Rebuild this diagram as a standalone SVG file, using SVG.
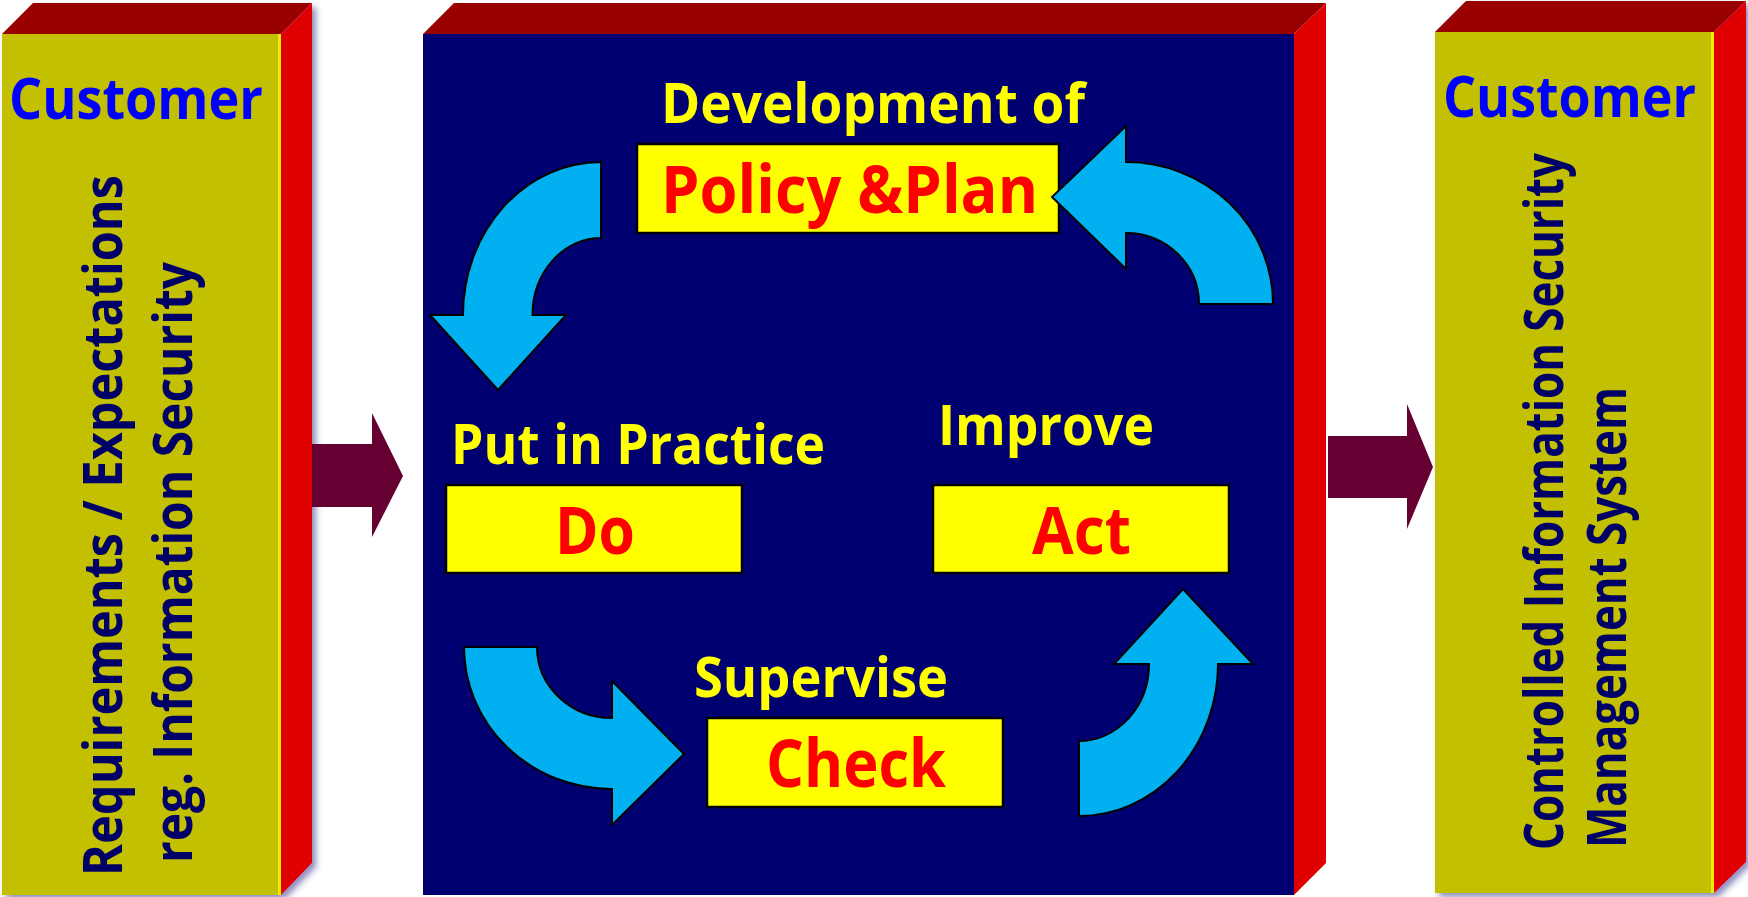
<svg xmlns="http://www.w3.org/2000/svg" width="1748" height="897" viewBox="0 0 1748 897">
<style>
.front{fill:#c2c000}
.top{fill:#990000}
.side{fill:#e00000}
.edge{stroke:#eeee00;stroke-width:3}
.panel{fill:#000070}
.cust{font-family:"Open Sans","Noto Sans",sans-serif;font-weight:bold;fill:#0000ff;font-size:57px}
.vt{font-family:"Open Sans","Noto Sans",sans-serif;font-weight:bold;fill:#000066;font-size:53px}
.lab{font-family:"Open Sans","Noto Sans",sans-serif;font-weight:bold;fill:#ffff00;font-size:55px}
.key{font-family:"Open Sans","Noto Sans",sans-serif;font-weight:bold;fill:#ff0000;font-size:67px;text-anchor:start}
.ybox{fill:#ffff00;stroke:#000;stroke-width:2.5}
.curve{fill:#00b0f0;stroke:#000;stroke-width:2}
.flow{fill:#660033}
</style>
<defs>
<filter id="sh" x="-10%" y="-10%" width="130%" height="130%">
<feDropShadow dx="4" dy="4" stdDeviation="3" flood-color="#33338a" flood-opacity="0.55"/>
</filter>
</defs>

<g id="box-customer-in" filter="url(#sh)">
<polygon class="top" points="2,34 33,3 312,3 281,34"/>
<polygon class="side" points="281,34 312,3 312,863 281,895"/>
<rect class="front" x="2" y="34" width="279" height="861"/>
<line class="edge" x1="279.5" y1="34" x2="279.5" y2="895"/>
<text class="cust" x="9" y="119" textLength="254" lengthAdjust="spacingAndGlyphs">Customer</text>
<text class="vt" transform="translate(122,876) rotate(-90)" textLength="701" lengthAdjust="spacingAndGlyphs">Requirements / Expectations</text>
<text class="vt" transform="translate(192,863) rotate(-90)" textLength="601" lengthAdjust="spacingAndGlyphs">reg. Information Security</text>
</g>

<g id="box-pdca">
<polygon class="top" points="423,34 454,3 1326,3 1294,34"/>
<polygon class="side" points="1294,34 1326,3 1326,863 1294,895"/>
<rect class="panel" x="423" y="34" width="871" height="861"/>
</g>

<g id="box-customer-out" filter="url(#sh)">
<polygon class="top" points="1435,32 1466,1 1746,1 1714,32"/>
<polygon class="side" points="1714,32 1746,1 1746,862 1714,893"/>
<rect class="front" x="1435" y="32" width="279" height="861"/>
<line class="edge" x1="1712.5" y1="32" x2="1712.5" y2="893"/>
<text class="cust" x="1443" y="117" textLength="253" lengthAdjust="spacingAndGlyphs">Customer</text>
<text class="vt" transform="translate(1563,850) rotate(-90)" textLength="697" lengthAdjust="spacingAndGlyphs">Controlled Information Security</text>
<text class="vt" transform="translate(1626,848) rotate(-90)" textLength="461" lengthAdjust="spacingAndGlyphs">Management System</text>
</g>

<g id="node-plan">
<text class="lab" x="661" y="123" textLength="424" lengthAdjust="spacingAndGlyphs">Development of</text>
<rect class="ybox" x="637" y="144" width="422" height="89"/>
<text class="key" x="661" y="213" textLength="377" lengthAdjust="spacingAndGlyphs">Policy &amp;Plan</text>
</g>

<g id="node-do">
<text class="lab" x="451" y="464" textLength="374" lengthAdjust="spacingAndGlyphs">Put in Practice</text>
<rect class="ybox" x="446" y="485" width="296" height="88"/>
<text class="key" x="555" y="554" textLength="80" lengthAdjust="spacingAndGlyphs">Do</text>
</g>

<g id="node-act">
<text class="lab" x="938" y="445" textLength="216" lengthAdjust="spacingAndGlyphs">Improve</text>
<rect class="ybox" x="933" y="485" width="296" height="88"/>
<text class="key" x="1032" y="554" textLength="99" lengthAdjust="spacingAndGlyphs">Act</text>
</g>

<g id="node-check">
<text class="lab" x="694" y="697" textLength="254" lengthAdjust="spacingAndGlyphs">Supervise</text>
<rect class="ybox" x="707" y="718" width="296" height="89"/>
<text class="key" x="766" y="787" textLength="180" lengthAdjust="spacingAndGlyphs">Check</text>
</g>

<g id="connectors">
<path class="curve" d="M601,162 L601,238 A68.5,77 0 0 0 532.5,315 L566,315 L498,390 L430,315 L463,315 A138,153 0 0 1 601,162 Z"/>
<path class="curve" d="M1126,162 A147,142 0 0 1 1273,304 L1199,304 A73,71 0 0 0 1126,233 L1126,269 L1052,197 L1126,126 Z"/>
<path class="curve" d="M464,647 L537,647 A75,71 0 0 0 612,718 L612,681 L684,754 L612,825 L612,789 A148,142 0 0 1 464,647 Z"/>
<path class="curve" d="M1079,741 A70,77 0 0 0 1149,664 L1114,664 L1183,589 L1253,664 L1218,664 A139,152 0 0 1 1079,816 Z"/>
<polygon class="flow" points="312,444 372,444 372,413 403,476 372,537 372,507 312,507"/>
<polygon class="flow" points="1328,436 1407,436 1407,404 1433,467 1407,529 1407,498 1328,498"/>
</g>
</svg>
